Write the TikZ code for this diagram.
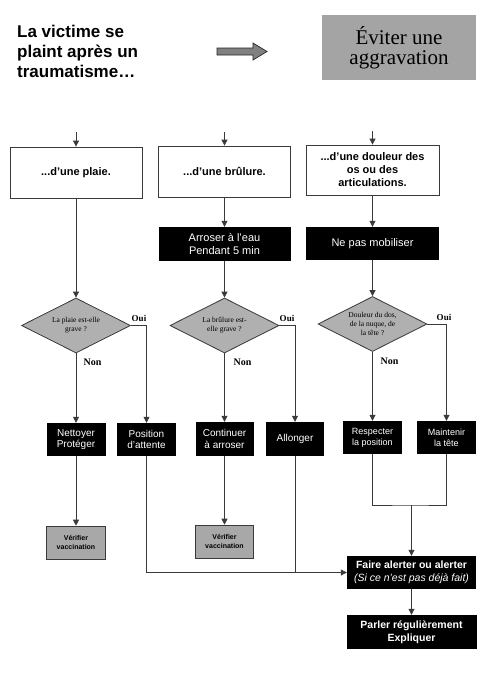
\documentclass[tikz,border=0pt]{standalone}
\usepackage{fontspec}
\setmainfont{Liberation Sans}
\newfontfamily\timesf{Liberation Serif}
\usetikzlibrary{arrows.meta,shapes.geometric}
\definecolor{lin}{HTML}{3A3A3A}
\definecolor{dgrey}{HTML}{B0B0B0}
\definecolor{vgrey}{HTML}{A8A8A8}
\definecolor{tgrey}{HTML}{A4A4A4}
\begin{document}
\begin{tikzpicture}[x=1pt,y=-1pt,
 wbox/.style={draw=lin,line width=0.8pt,fill=white,inner sep=0pt,align=center,font=\bfseries\fontsize{11}{13}\selectfont},
 bbox/.style={fill=black,text=white,inner sep=0pt,align=center},
 gbox/.style={draw=lin,line width=0.6pt,fill=vgrey,inner sep=0pt,align=center,font=\bfseries\fontsize{7}{8.5}\selectfont},
 dec/.style={diamond,draw=lin,line width=0.8pt,fill=dgrey,inner sep=0pt,minimum width=109pt,minimum height=55pt,aspect=2,align=center,font=\timesf\fontsize{7.5}{9}\selectfont},
 lab/.style={font=\timesf\bfseries\fontsize{10}{12}\selectfont,inner sep=0pt},
 conn/.style={draw=lin,line width=0.8pt},
 arr/.style={conn,-{Triangle[length=6pt,width=6pt]}}
]
\useasboundingbox (0,0) rectangle (500,673);

% heading
\node[anchor=north west,align=left,inner sep=0pt,font=\bfseries\fontsize{17}{20}\selectfont] (title) at (17,25) {La victime se\\plaint après un\\traumatisme…};
\draw[draw=black!85,fill=black!50,line width=0.7pt] (217,48) -- (253,48) -- (253,43) -- (267,51.5) -- (253,60) -- (253,55) -- (217,55) -- cycle;
\node[fill=tgrey,inner sep=0pt,minimum width=154pt,minimum height=65pt,align=center,font=\timesf\fontsize{21}{20}\selectfont] (ev) at (399,47.5) {Éviter une\\aggravation};

% row 1
\node[wbox,minimum width=132pt,minimum height=51pt] (b1) at (76,172.5) {...d'une plaie.};
\node[wbox,minimum width=132pt,minimum height=51pt] (b2) at (224.5,171.5) {...d'une brûlure.};
\node[wbox,minimum width=133pt,minimum height=50pt] (b3) at (372.5,170) {...d'une douleur des\\os ou des\\articulations.};
\coordinate (t1) at (76,132);
\coordinate (t2) at (224.5,132);
\coordinate (t3) at (372.5,131);
\draw[arr] (t1) -- (b1.north);
\draw[arr] (t2) -- (b2.north);
\draw[arr] (t3) -- (b3.north);

% row 2
\node[bbox,minimum width=132pt,minimum height=34pt,font=\fontsize{11}{13}\selectfont] (a2) at (224.5,244) {Arroser à l'eau\\Pendant 5 min};
\node[bbox,minimum width=133pt,minimum height=33pt,font=\fontsize{11}{13}\selectfont] (a3) at (372.5,243.5) {Ne pas mobiliser};
\draw[arr] (b2.south) -- (a2.north);
\draw[arr] (b3.south) -- (a3.north);

% decisions
\node[dec] (d1) at (76,325.5) {La plaie est-elle\\grave ?};
\node[dec] (d2) at (224.5,325.5) {La brûlure est-\\elle grave ?};
\node[dec] (d3) at (372.5,324) {Douleur du dos,\\de la nuque, de\\la tête ?};
\draw[arr] (b1.south) -- (d1.north);
\draw[arr] (a2.south) -- (d2.north);
\draw[arr] (a3.south) -- (d3.north);

\node[lab,font=\timesf\bfseries\fontsize{9}{11}\selectfont] (o1) at (139,318) {Oui};
\node[lab,font=\timesf\bfseries\fontsize{9}{11}\selectfont] (o2) at (287,318) {Oui};
\node[lab,font=\timesf\bfseries\fontsize{9}{11}\selectfont] (o3) at (444,317) {Oui};
\node[lab] (n1l) at (92.5,362) {Non};
\node[lab] (n2l) at (242.5,362) {Non};
\node[lab] (n3l) at (389.5,361) {Non};

% row 3
\node[bbox,minimum width=59pt,minimum height=33pt,font=\fontsize{10}{11.5}\selectfont] (n1) at (76,439.5) {Nettoyer\\Protéger};
\node[bbox,minimum width=59pt,minimum height=33pt,font=\fontsize{10}{11.5}\selectfont] (p1) at (146.5,439.5) {Position\\d'attente};
\node[bbox,minimum width=58pt,minimum height=34pt,font=\fontsize{10}{11.5}\selectfont] (c2) at (224.5,439) {Continuer\\à arroser};
\node[bbox,minimum width=58pt,minimum height=34pt,font=\fontsize{10}{11.5}\selectfont] (l2) at (295,439) {Allonger};
\node[bbox,minimum width=59pt,minimum height=33pt,font=\fontsize{9}{11}\selectfont] (r3) at (372.5,437.5) {Respecter\\la position};
\node[bbox,minimum width=59pt,minimum height=33pt,font=\fontsize{9}{11}\selectfont] (m3) at (446.5,437.5) {Maintenir\\la tête};

\draw[arr] (d1.south) -- (n1.north);
\draw[arr] (d1.east) -| (p1.north);
\draw[arr] (d2.south) -- (c2.north);
\draw[arr] (d2.east) -| (l2.north);
\draw[arr] (d3.south) -- (r3.north);
\draw[arr] (d3.east) -| (m3.north);

% vaccination
\node[gbox,minimum width=59pt,minimum height=33pt] (v1) at (76,542.5) {Vérifier\\vaccination};
\node[gbox,minimum width=58pt,minimum height=33pt] (v2) at (224.5,541.5) {Vérifier\\vaccination};
\draw[arr] (n1.south) -- (v1.north);
\draw[arr] (c2.south) -- (v2.north);

% final
\node[bbox,minimum width=129pt,minimum height=33pt,font=\fontsize{10.5}{12.5}\selectfont] (f) at (411.5,572.5) {\textbf{Faire alerter ou alerter}\\\textit{(Si ce n'est pas déjà fait)}};
\node[bbox,minimum width=130pt,minimum height=34pt,font=\bfseries\fontsize{10.5}{12.5}\selectfont] (pr) at (411.5,632) {Parler régulièrement\\Expliquer};

\coordinate (j) at (411.5,505);
\draw[conn] (r3.south) |- (j) -| (m3.south);
\draw[arr] (j) -- (f.north);
\draw[arr] (p1.south) |- (f.west);
\coordinate (k) at (l2.south |- f.west);
\draw[conn] (l2.south) -- (k);
\draw[arr] (f.south) -- (pr.north);
\end{tikzpicture}
\end{document}
